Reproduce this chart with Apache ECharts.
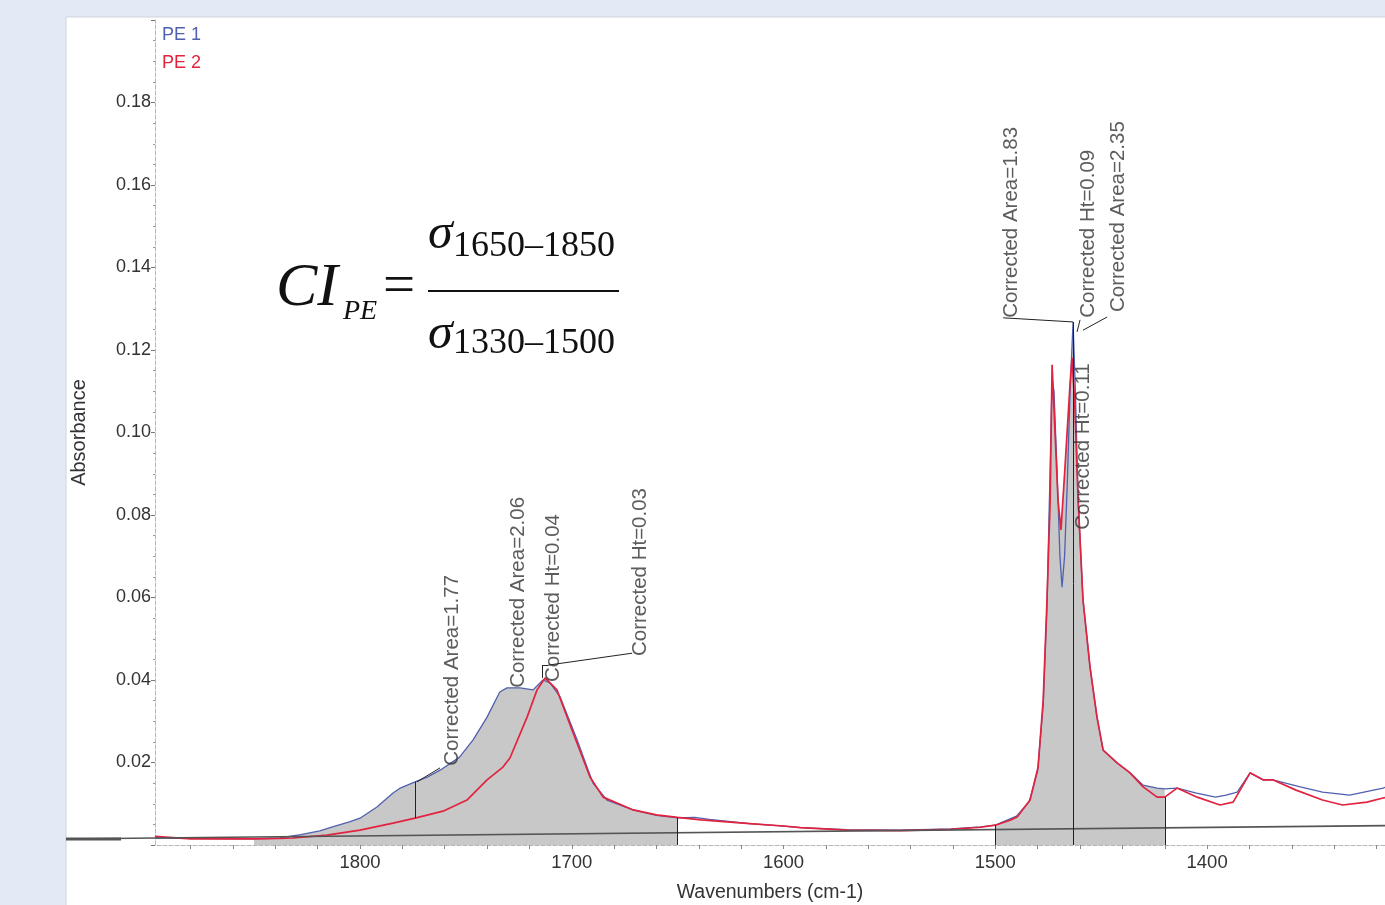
<!DOCTYPE html>
<html>
<head>
<meta charset="utf-8">
<script src="https://cdn.jsdelivr.net/npm/echarts@6/dist/echarts.min.js"></script>
<style>
html,body{margin:0;padding:0;background:#e4e9f6;}
#chart{width:1385px;height:905px;}
</style>
</head>
<body>
<div id="chart"></div>
<script>
// ---------- DATA ----------
const pe1Wn = [1896.8,1880,1860,1850,1838,1828,1819,1813,1805,1800,1792,1784.4,1781,1774,1768,1762,1753,1746.6,1740,1734,1730.6,1724.4,1718.3,1713.6,1710.3,1705.5,1697.5,1690,1683.4,1671,1660,1650,1642,1635,1616,1600,1592,1570,1545,1521,1507,1500,1490,1484,1480,1477.4,1475.6,1474.1,1473.2,1472.3,1470.8,1469.5,1468.5,1467.3,1466,1464.7,1463.3,1462.2,1460.9,1458.6,1455.3,1452,1449.1,1442.5,1436.4,1430.2,1423.6,1420,1414.2,1405,1396,1391,1385.8,1379.7,1373.6,1369,1356,1345.5,1332.7,1316.9,1316];
const pe1Abs = [0.0017,0.0016,0.0015,0.0015,0.0017,0.0025,0.0034,0.0044,0.0056,0.0065,0.0092,0.0126,0.0138,0.0153,0.0165,0.0182,0.0213,0.0255,0.0310,0.0371,0.0381,0.0381,0.0376,0.0400,0.0393,0.0359,0.0255,0.0150,0.0109,0.0085,0.0072,0.0066,0.0067,0.0062,0.0052,0.0046,0.0042,0.0037,0.0036,0.0039,0.0044,0.0048,0.0070,0.0105,0.0180,0.0340,0.0580,0.0920,0.1130,0.1100,0.0900,0.0700,0.0625,0.0700,0.0880,0.1100,0.1268,0.1100,0.0836,0.0594,0.0432,0.0310,0.0230,0.0199,0.0175,0.0145,0.0138,0.0136,0.0138,0.0126,0.0116,0.0121,0.0128,0.0175,0.0158,0.0158,0.0141,0.0128,0.0121,0.0138,0.0140];

const pe2Wn = [1896.8,1880,1860,1850,1838,1831.6,1815.6,1800,1784.4,1774,1760.8,1749.5,1740,1732.5,1729.2,1721.1,1716.4,1712.6,1707,1699.4,1691.4,1685.2,1671,1660,1650,1639,1616,1600,1592,1570,1545,1521,1507,1500,1493,1489.7,1483.6,1479.8,1477.4,1475.6,1474.1,1473.2,1471.8,1470.4,1469,1467.1,1464.7,1463.8,1462.6,1460.9,1458.6,1455.3,1452,1449.1,1442.5,1436.4,1430.2,1423.6,1420,1414.2,1404.7,1393.9,1387.7,1379.7,1373.6,1369,1358,1345.5,1336,1324.5,1316.9,1316];
const pe2Abs = [0.0021,0.0015,0.0015,0.0015,0.0016,0.0017,0.0024,0.0036,0.0053,0.0065,0.0082,0.0109,0.0158,0.0189,0.0211,0.0310,0.0376,0.0405,0.0376,0.0272,0.0165,0.0116,0.0085,0.0073,0.0067,0.0061,0.0052,0.0046,0.0042,0.0036,0.0035,0.0038,0.0043,0.0048,0.0060,0.0068,0.0109,0.0189,0.0352,0.0594,0.0836,0.1164,0.0999,0.0836,0.0764,0.0916,0.1120,0.1181,0.1080,0.0836,0.0594,0.0432,0.0310,0.0230,0.0199,0.0175,0.0141,0.0116,0.0116,0.0138,0.0116,0.0097,0.0104,0.0175,0.0158,0.0158,0.0133,0.0109,0.0097,0.0104,0.0114,0.0115];

const seriesNames = ['PE 1', 'PE 2'];
const xTickLabels = [1800, 1700, 1600, 1500, 1400];
const xMinorTicks = [1880,1860,1840,1820,1800,1780,1760,1740,1720,1700,1680,1660,1640,1620,1600,1580,1560,1540,1520,1500,1480,1460,1440,1420,1400,1380,1360,1340,1320];
const areaRanges = [[1650, 1850], [1420, 1500]];
const baseline = [[1896.8, 0.0017], [1316, 0.0047]];
const markerLines = [
  [[1774, 0.0065], [1774, 0.0153]],
  [[1650, 0], [1650, 0.0066]],
  [[1500, 0], [1500, 0.0048]],
  [[1420, 0], [1420, 0.0116]],
  [[1463.3, 0], [1463.3, 0.1268]],
  [[1496.3, 0.1278], [1463.3, 0.1268]],
  [[1773.1, 0.0153], [1762.2, 0.0187]],
  [[1461.4, 0.1244], [1460.0, 0.1273]],
  [[1458.6, 0.1248], [1447.2, 0.1280]],
  [[1714, 0.0405], [1714, 0.0436]],
  [[1714, 0.0436], [1711.2, 0.0436]],
  [[1711.2, 0.0436], [1671.5, 0.0465]]
];
const noteTexts = ['Corrected Area=1.77','Corrected Area=2.06','Corrected Ht=0.04','Corrected Ht=0.03','Corrected Area=1.83','Corrected Ht=0.09','Corrected Area=2.35','Corrected Ht=0.11'];
const noteAnchors = [[1756.6,0.0192],[1725.4,0.0381],[1708.9,0.0395],[1667.8,0.0458],[1492.6,0.1278],[1456.2,0.1278],[1442.0,0.1292],[1458.6,0.0764]];

// ---------- BUILD ----------
const BLUE = '#5060ae', RED = '#e2233f';
const pe1 = pe1Wn.map((w, i) => [w, pe1Abs[i]]);
const pe2 = pe2Wn.map((w, i) => [w, pe2Abs[i]]);
const inRange = (r) => (p) => p[0] >= r[0] && p[0] <= r[1];

const fillSeries = [];
areaRanges.forEach((r) => {
  [pe1, pe2].forEach((d) => {
    fillSeries.push({
      type: 'line', data: d.filter(inRange(r)), symbol: 'none', silent: true,
      lineStyle: { width: 0 }, areaStyle: { color: '#c8c8c8', opacity: 1 }, z: 1
    });
  });
});

const chart = echarts.init(document.getElementById('chart'), null, { renderer: 'canvas' });
const FONT = 'Liberation Sans';
const option = {
  backgroundColor: '#e4e9f6',
  animation: false,
  textStyle: { fontFamily: FONT },
  legend: {
    orient: 'vertical', left: 152, top: 21, itemWidth: 0, itemHeight: 0, itemGap: 10,
    selectedMode: false,
    data: [
      { name: seriesNames[0], icon: 'none', textStyle: { color: BLUE } },
      { name: seriesNames[1], icon: 'none', textStyle: { color: RED } }
    ],
    textStyle: { fontSize: 18, fontFamily: FONT }
  },
  grid: { left: 155, right: 0, top: 20, bottom: 60, containLabel: false, outerBoundsMode: 'none' },
  xAxis: {
    type: 'value', min: 1316, max: 1896.8, inverse: true,
    name: 'Wavenumbers (cm-1)', nameLocation: 'middle', nameGap: 38,
    nameTextStyle: { fontSize: 19.5, color: '#333', fontFamily: FONT },
    axisLine: { lineStyle: { color: '#b5b5b5', type: 'dashed', width: 1 } },
    axisTick: { show: true, length: 4, customValues: xMinorTicks, lineStyle: { color: '#888' } },
    axisLabel: { customValues: xTickLabels, fontSize: 18.5, color: '#333', margin: 8, fontFamily: FONT,
      formatter: (v) => String(v) },
    splitLine: { show: false }
  },
  yAxis: {
    type: 'value', min: 0, max: 0.2, interval: 0.02,
    name: 'Absorbance', nameLocation: 'middle', nameGap: 66,
    nameTextStyle: { fontSize: 20, color: '#333', fontFamily: FONT },
    axisLine: { show: true, lineStyle: { color: '#b5b5b5', type: 'dashed', width: 1 } },
    axisTick: { show: true, length: 4, lineStyle: { color: '#777' } },
    minorTick: { show: true, splitNumber: 4, length: 2, lineStyle: { color: '#999' } },
    axisLabel: { fontSize: 18, color: '#333', margin: 4, showMinLabel: false, showMaxLabel: false,
      formatter: (v) => v.toFixed(2), fontFamily: FONT },
    splitLine: { show: false }
  },
  series: fillSeries.concat([
    {
      name: seriesNames[0], type: 'line', data: pe1, symbol: 'none', z: 3,
      lineStyle: { color: BLUE, width: 1.3 }, itemStyle: { color: BLUE }
    },
    {
      name: seriesNames[1], type: 'line', data: pe2, symbol: 'none', z: 4,
      lineStyle: { color: RED, width: 1.7 }, itemStyle: { color: RED }
    },
    {
      name: 'notes', type: 'scatter', symbolSize: 0, z: 6, silent: true,
      data: noteAnchors.map((a, i) => [a[0], a[1], noteTexts[i]]),
      label: {
        show: true, position: [0, 0], rotate: 90, align: 'left', verticalAlign: 'middle',
        formatter: (p) => p.data[2], fontSize: 20.5, color: '#333', fontFamily: FONT
      },
      markLine: {
        silent: true, symbol: 'none', animation: false,
        label: { show: false },
        lineStyle: { color: '#222', width: 1, type: 'solid' },
        data: [
          [{ coord: baseline[0], lineStyle: { color: '#555', width: 1.6 } }, { coord: baseline[1] }]
        ].concat(markerLines.map((s) => [{ coord: s[0] }, { coord: s[1] }]))
      }
    }
  ])
};
chart.setOption(option);

// panel, left baseline stub and formula (decoration)
const p0 = chart.convertToPixel({ gridIndex: 0 }, baseline[0]);
chart.setOption({
  graphic: [
    { type: 'rect', z: -10, silent: true, shape: { x: 66, y: 17, width: 1330, height: 900 },
      style: { fill: '#ffffff', stroke: '#cfd3dc', lineWidth: 1 } },
    { type: 'line', silent: true, shape: { x1: 66, y1: p0[1] + 1, x2: p0[0], y2: p0[1] }, style: { stroke: '#555', lineWidth: 1.6 } },
    { type: 'line', silent: true, shape: { x1: 66, y1: p0[1] + 1, x2: 121, y2: p0[1] + 1 }, style: { stroke: '#555', lineWidth: 3 } },
    { type: 'text', silent: true, x: 276, y: 289, style: { text: 'CI', font: 'italic 62px "Liberation Serif"', fill: '#111', verticalAlign: 'middle' } },
    { type: 'text', silent: true, x: 343, y: 312, style: { text: 'PE', font: 'italic 28px "Liberation Serif"', fill: '#111', verticalAlign: 'middle' } },
    { type: 'text', silent: true, x: 383, y: 288, style: { text: '=', font: '57px "Liberation Serif"', fill: '#111', verticalAlign: 'middle' } },
    { type: 'text', silent: true, x: 428, y: 235, style: { text: 'σ', font: 'italic 50px "Liberation Serif"', fill: '#111', verticalAlign: 'middle' } },
    { type: 'text', silent: true, x: 453, y: 247, style: { text: '1650–1850', font: '36px "Liberation Serif"', fill: '#111', verticalAlign: 'middle' } },
    { type: 'line', silent: true, shape: { x1: 428, y1: 291, x2: 619, y2: 291 }, style: { stroke: '#111', lineWidth: 2 } },
    { type: 'text', silent: true, x: 428, y: 335, style: { text: 'σ', font: 'italic 50px "Liberation Serif"', fill: '#111', verticalAlign: 'middle' } },
    { type: 'text', silent: true, x: 453, y: 344, style: { text: '1330–1500', font: '36px "Liberation Serif"', fill: '#111', verticalAlign: 'middle' } }
  ]
});
</script>
</body>
</html>
